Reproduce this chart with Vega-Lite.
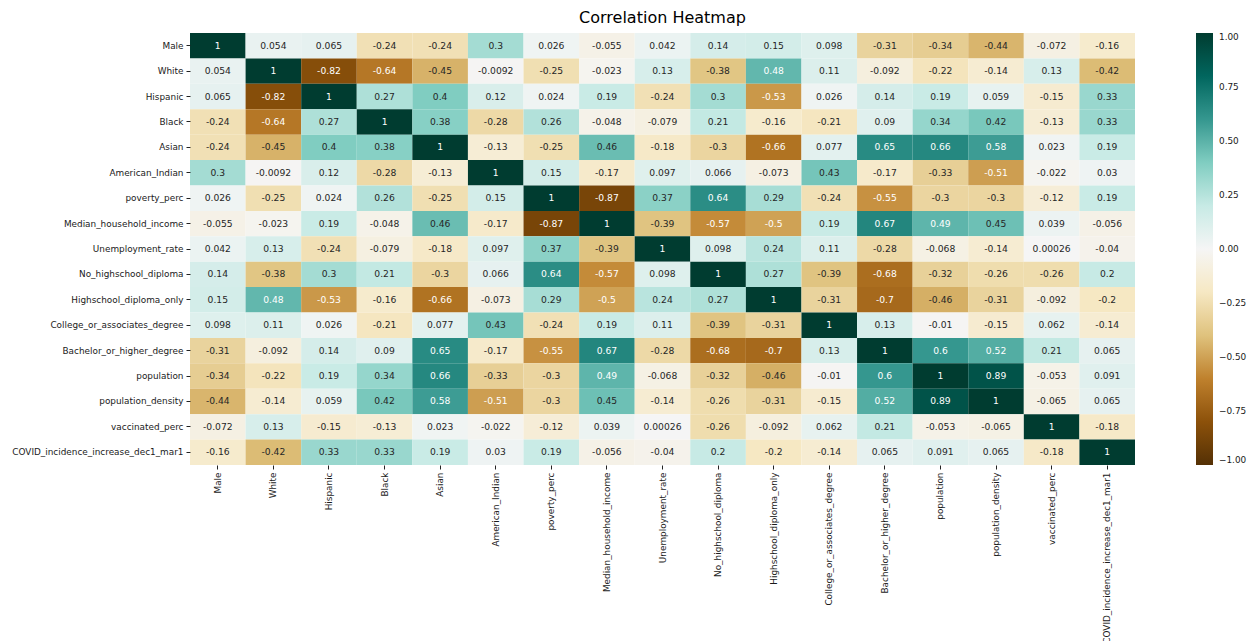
{
  "$schema": "https://vega.github.io/schema/vega-lite/v6.json",
  "autosize": "none",
  "padding": {"left": 190, "top": 33, "right": 119, "bottom": 176},
  "width": 945,
  "height": 432,
  "background": "white",
  "title": {"text": "Correlation Heatmap", "fontSize": 16, "fontWeight": "normal", "font": "DejaVu Sans", "color": "#000000", "anchor": "middle", "frame": "group", "offset": 7},
  "config": {
    "view": {"stroke": null},
    "font": "DejaVu Sans",
    "axis": {"domain": false, "ticks": true, "tickSize": 4, "tickColor": "#222222", "labelColor": "#1a1a1a", "labelFontSize": 8.9, "labelFont": "DejaVu Sans", "labelPadding": 3, "title": null, "grid": false}
  },
  "data": {"values": [
{"y":"Male","x":"Male","v":1},{"y":"Male","x":"White","v":0.054},{"y":"Male","x":"Hispanic","v":0.065},{"y":"Male","x":"Black","v":-0.24},{"y":"Male","x":"Asian","v":-0.24},{"y":"Male","x":"American_Indian","v":0.3},{"y":"Male","x":"poverty_perc","v":0.026},{"y":"Male","x":"Median_household_income","v":-0.055},{"y":"Male","x":"Unemployment_rate","v":0.042},{"y":"Male","x":"No_highschool_diploma","v":0.14},{"y":"Male","x":"Highschool_diploma_only","v":0.15},{"y":"Male","x":"College_or_associates_degree","v":0.098},{"y":"Male","x":"Bachelor_or_higher_degree","v":-0.31},{"y":"Male","x":"population","v":-0.34},{"y":"Male","x":"population_density","v":-0.44},{"y":"Male","x":"vaccinated_perc","v":-0.072},{"y":"Male","x":"COVID_incidence_increase_dec1_mar1","v":-0.16},
{"y":"White","x":"Male","v":0.054},{"y":"White","x":"White","v":1},{"y":"White","x":"Hispanic","v":-0.82},{"y":"White","x":"Black","v":-0.64},{"y":"White","x":"Asian","v":-0.45},{"y":"White","x":"American_Indian","v":-0.0092},{"y":"White","x":"poverty_perc","v":-0.25},{"y":"White","x":"Median_household_income","v":-0.023},{"y":"White","x":"Unemployment_rate","v":0.13},{"y":"White","x":"No_highschool_diploma","v":-0.38},{"y":"White","x":"Highschool_diploma_only","v":0.48},{"y":"White","x":"College_or_associates_degree","v":0.11},{"y":"White","x":"Bachelor_or_higher_degree","v":-0.092},{"y":"White","x":"population","v":-0.22},{"y":"White","x":"population_density","v":-0.14},{"y":"White","x":"vaccinated_perc","v":0.13},{"y":"White","x":"COVID_incidence_increase_dec1_mar1","v":-0.42},
{"y":"Hispanic","x":"Male","v":0.065},{"y":"Hispanic","x":"White","v":-0.82},{"y":"Hispanic","x":"Hispanic","v":1},{"y":"Hispanic","x":"Black","v":0.27},{"y":"Hispanic","x":"Asian","v":0.4},{"y":"Hispanic","x":"American_Indian","v":0.12},{"y":"Hispanic","x":"poverty_perc","v":0.024},{"y":"Hispanic","x":"Median_household_income","v":0.19},{"y":"Hispanic","x":"Unemployment_rate","v":-0.24},{"y":"Hispanic","x":"No_highschool_diploma","v":0.3},{"y":"Hispanic","x":"Highschool_diploma_only","v":-0.53},{"y":"Hispanic","x":"College_or_associates_degree","v":0.026},{"y":"Hispanic","x":"Bachelor_or_higher_degree","v":0.14},{"y":"Hispanic","x":"population","v":0.19},{"y":"Hispanic","x":"population_density","v":0.059},{"y":"Hispanic","x":"vaccinated_perc","v":-0.15},{"y":"Hispanic","x":"COVID_incidence_increase_dec1_mar1","v":0.33},
{"y":"Black","x":"Male","v":-0.24},{"y":"Black","x":"White","v":-0.64},{"y":"Black","x":"Hispanic","v":0.27},{"y":"Black","x":"Black","v":1},{"y":"Black","x":"Asian","v":0.38},{"y":"Black","x":"American_Indian","v":-0.28},{"y":"Black","x":"poverty_perc","v":0.26},{"y":"Black","x":"Median_household_income","v":-0.048},{"y":"Black","x":"Unemployment_rate","v":-0.079},{"y":"Black","x":"No_highschool_diploma","v":0.21},{"y":"Black","x":"Highschool_diploma_only","v":-0.16},{"y":"Black","x":"College_or_associates_degree","v":-0.21},{"y":"Black","x":"Bachelor_or_higher_degree","v":0.09},{"y":"Black","x":"population","v":0.34},{"y":"Black","x":"population_density","v":0.42},{"y":"Black","x":"vaccinated_perc","v":-0.13},{"y":"Black","x":"COVID_incidence_increase_dec1_mar1","v":0.33},
{"y":"Asian","x":"Male","v":-0.24},{"y":"Asian","x":"White","v":-0.45},{"y":"Asian","x":"Hispanic","v":0.4},{"y":"Asian","x":"Black","v":0.38},{"y":"Asian","x":"Asian","v":1},{"y":"Asian","x":"American_Indian","v":-0.13},{"y":"Asian","x":"poverty_perc","v":-0.25},{"y":"Asian","x":"Median_household_income","v":0.46},{"y":"Asian","x":"Unemployment_rate","v":-0.18},{"y":"Asian","x":"No_highschool_diploma","v":-0.3},{"y":"Asian","x":"Highschool_diploma_only","v":-0.66},{"y":"Asian","x":"College_or_associates_degree","v":0.077},{"y":"Asian","x":"Bachelor_or_higher_degree","v":0.65},{"y":"Asian","x":"population","v":0.66},{"y":"Asian","x":"population_density","v":0.58},{"y":"Asian","x":"vaccinated_perc","v":0.023},{"y":"Asian","x":"COVID_incidence_increase_dec1_mar1","v":0.19},
{"y":"American_Indian","x":"Male","v":0.3},{"y":"American_Indian","x":"White","v":-0.0092},{"y":"American_Indian","x":"Hispanic","v":0.12},{"y":"American_Indian","x":"Black","v":-0.28},{"y":"American_Indian","x":"Asian","v":-0.13},{"y":"American_Indian","x":"American_Indian","v":1},{"y":"American_Indian","x":"poverty_perc","v":0.15},{"y":"American_Indian","x":"Median_household_income","v":-0.17},{"y":"American_Indian","x":"Unemployment_rate","v":0.097},{"y":"American_Indian","x":"No_highschool_diploma","v":0.066},{"y":"American_Indian","x":"Highschool_diploma_only","v":-0.073},{"y":"American_Indian","x":"College_or_associates_degree","v":0.43},{"y":"American_Indian","x":"Bachelor_or_higher_degree","v":-0.17},{"y":"American_Indian","x":"population","v":-0.33},{"y":"American_Indian","x":"population_density","v":-0.51},{"y":"American_Indian","x":"vaccinated_perc","v":-0.022},{"y":"American_Indian","x":"COVID_incidence_increase_dec1_mar1","v":0.03},
{"y":"poverty_perc","x":"Male","v":0.026},{"y":"poverty_perc","x":"White","v":-0.25},{"y":"poverty_perc","x":"Hispanic","v":0.024},{"y":"poverty_perc","x":"Black","v":0.26},{"y":"poverty_perc","x":"Asian","v":-0.25},{"y":"poverty_perc","x":"American_Indian","v":0.15},{"y":"poverty_perc","x":"poverty_perc","v":1},{"y":"poverty_perc","x":"Median_household_income","v":-0.87},{"y":"poverty_perc","x":"Unemployment_rate","v":0.37},{"y":"poverty_perc","x":"No_highschool_diploma","v":0.64},{"y":"poverty_perc","x":"Highschool_diploma_only","v":0.29},{"y":"poverty_perc","x":"College_or_associates_degree","v":-0.24},{"y":"poverty_perc","x":"Bachelor_or_higher_degree","v":-0.55},{"y":"poverty_perc","x":"population","v":-0.3},{"y":"poverty_perc","x":"population_density","v":-0.3},{"y":"poverty_perc","x":"vaccinated_perc","v":-0.12},{"y":"poverty_perc","x":"COVID_incidence_increase_dec1_mar1","v":0.19},
{"y":"Median_household_income","x":"Male","v":-0.055},{"y":"Median_household_income","x":"White","v":-0.023},{"y":"Median_household_income","x":"Hispanic","v":0.19},{"y":"Median_household_income","x":"Black","v":-0.048},{"y":"Median_household_income","x":"Asian","v":0.46},{"y":"Median_household_income","x":"American_Indian","v":-0.17},{"y":"Median_household_income","x":"poverty_perc","v":-0.87},{"y":"Median_household_income","x":"Median_household_income","v":1},{"y":"Median_household_income","x":"Unemployment_rate","v":-0.39},{"y":"Median_household_income","x":"No_highschool_diploma","v":-0.57},{"y":"Median_household_income","x":"Highschool_diploma_only","v":-0.5},{"y":"Median_household_income","x":"College_or_associates_degree","v":0.19},{"y":"Median_household_income","x":"Bachelor_or_higher_degree","v":0.67},{"y":"Median_household_income","x":"population","v":0.49},{"y":"Median_household_income","x":"population_density","v":0.45},{"y":"Median_household_income","x":"vaccinated_perc","v":0.039},{"y":"Median_household_income","x":"COVID_incidence_increase_dec1_mar1","v":-0.056},
{"y":"Unemployment_rate","x":"Male","v":0.042},{"y":"Unemployment_rate","x":"White","v":0.13},{"y":"Unemployment_rate","x":"Hispanic","v":-0.24},{"y":"Unemployment_rate","x":"Black","v":-0.079},{"y":"Unemployment_rate","x":"Asian","v":-0.18},{"y":"Unemployment_rate","x":"American_Indian","v":0.097},{"y":"Unemployment_rate","x":"poverty_perc","v":0.37},{"y":"Unemployment_rate","x":"Median_household_income","v":-0.39},{"y":"Unemployment_rate","x":"Unemployment_rate","v":1},{"y":"Unemployment_rate","x":"No_highschool_diploma","v":0.098},{"y":"Unemployment_rate","x":"Highschool_diploma_only","v":0.24},{"y":"Unemployment_rate","x":"College_or_associates_degree","v":0.11},{"y":"Unemployment_rate","x":"Bachelor_or_higher_degree","v":-0.28},{"y":"Unemployment_rate","x":"population","v":-0.068},{"y":"Unemployment_rate","x":"population_density","v":-0.14},{"y":"Unemployment_rate","x":"vaccinated_perc","v":0.00026},{"y":"Unemployment_rate","x":"COVID_incidence_increase_dec1_mar1","v":-0.04},
{"y":"No_highschool_diploma","x":"Male","v":0.14},{"y":"No_highschool_diploma","x":"White","v":-0.38},{"y":"No_highschool_diploma","x":"Hispanic","v":0.3},{"y":"No_highschool_diploma","x":"Black","v":0.21},{"y":"No_highschool_diploma","x":"Asian","v":-0.3},{"y":"No_highschool_diploma","x":"American_Indian","v":0.066},{"y":"No_highschool_diploma","x":"poverty_perc","v":0.64},{"y":"No_highschool_diploma","x":"Median_household_income","v":-0.57},{"y":"No_highschool_diploma","x":"Unemployment_rate","v":0.098},{"y":"No_highschool_diploma","x":"No_highschool_diploma","v":1},{"y":"No_highschool_diploma","x":"Highschool_diploma_only","v":0.27},{"y":"No_highschool_diploma","x":"College_or_associates_degree","v":-0.39},{"y":"No_highschool_diploma","x":"Bachelor_or_higher_degree","v":-0.68},{"y":"No_highschool_diploma","x":"population","v":-0.32},{"y":"No_highschool_diploma","x":"population_density","v":-0.26},{"y":"No_highschool_diploma","x":"vaccinated_perc","v":-0.26},{"y":"No_highschool_diploma","x":"COVID_incidence_increase_dec1_mar1","v":0.2},
{"y":"Highschool_diploma_only","x":"Male","v":0.15},{"y":"Highschool_diploma_only","x":"White","v":0.48},{"y":"Highschool_diploma_only","x":"Hispanic","v":-0.53},{"y":"Highschool_diploma_only","x":"Black","v":-0.16},{"y":"Highschool_diploma_only","x":"Asian","v":-0.66},{"y":"Highschool_diploma_only","x":"American_Indian","v":-0.073},{"y":"Highschool_diploma_only","x":"poverty_perc","v":0.29},{"y":"Highschool_diploma_only","x":"Median_household_income","v":-0.5},{"y":"Highschool_diploma_only","x":"Unemployment_rate","v":0.24},{"y":"Highschool_diploma_only","x":"No_highschool_diploma","v":0.27},{"y":"Highschool_diploma_only","x":"Highschool_diploma_only","v":1},{"y":"Highschool_diploma_only","x":"College_or_associates_degree","v":-0.31},{"y":"Highschool_diploma_only","x":"Bachelor_or_higher_degree","v":-0.7},{"y":"Highschool_diploma_only","x":"population","v":-0.46},{"y":"Highschool_diploma_only","x":"population_density","v":-0.31},{"y":"Highschool_diploma_only","x":"vaccinated_perc","v":-0.092},{"y":"Highschool_diploma_only","x":"COVID_incidence_increase_dec1_mar1","v":-0.2},
{"y":"College_or_associates_degree","x":"Male","v":0.098},{"y":"College_or_associates_degree","x":"White","v":0.11},{"y":"College_or_associates_degree","x":"Hispanic","v":0.026},{"y":"College_or_associates_degree","x":"Black","v":-0.21},{"y":"College_or_associates_degree","x":"Asian","v":0.077},{"y":"College_or_associates_degree","x":"American_Indian","v":0.43},{"y":"College_or_associates_degree","x":"poverty_perc","v":-0.24},{"y":"College_or_associates_degree","x":"Median_household_income","v":0.19},{"y":"College_or_associates_degree","x":"Unemployment_rate","v":0.11},{"y":"College_or_associates_degree","x":"No_highschool_diploma","v":-0.39},{"y":"College_or_associates_degree","x":"Highschool_diploma_only","v":-0.31},{"y":"College_or_associates_degree","x":"College_or_associates_degree","v":1},{"y":"College_or_associates_degree","x":"Bachelor_or_higher_degree","v":0.13},{"y":"College_or_associates_degree","x":"population","v":-0.01},{"y":"College_or_associates_degree","x":"population_density","v":-0.15},{"y":"College_or_associates_degree","x":"vaccinated_perc","v":0.062},{"y":"College_or_associates_degree","x":"COVID_incidence_increase_dec1_mar1","v":-0.14},
{"y":"Bachelor_or_higher_degree","x":"Male","v":-0.31},{"y":"Bachelor_or_higher_degree","x":"White","v":-0.092},{"y":"Bachelor_or_higher_degree","x":"Hispanic","v":0.14},{"y":"Bachelor_or_higher_degree","x":"Black","v":0.09},{"y":"Bachelor_or_higher_degree","x":"Asian","v":0.65},{"y":"Bachelor_or_higher_degree","x":"American_Indian","v":-0.17},{"y":"Bachelor_or_higher_degree","x":"poverty_perc","v":-0.55},{"y":"Bachelor_or_higher_degree","x":"Median_household_income","v":0.67},{"y":"Bachelor_or_higher_degree","x":"Unemployment_rate","v":-0.28},{"y":"Bachelor_or_higher_degree","x":"No_highschool_diploma","v":-0.68},{"y":"Bachelor_or_higher_degree","x":"Highschool_diploma_only","v":-0.7},{"y":"Bachelor_or_higher_degree","x":"College_or_associates_degree","v":0.13},{"y":"Bachelor_or_higher_degree","x":"Bachelor_or_higher_degree","v":1},{"y":"Bachelor_or_higher_degree","x":"population","v":0.6},{"y":"Bachelor_or_higher_degree","x":"population_density","v":0.52},{"y":"Bachelor_or_higher_degree","x":"vaccinated_perc","v":0.21},{"y":"Bachelor_or_higher_degree","x":"COVID_incidence_increase_dec1_mar1","v":0.065},
{"y":"population","x":"Male","v":-0.34},{"y":"population","x":"White","v":-0.22},{"y":"population","x":"Hispanic","v":0.19},{"y":"population","x":"Black","v":0.34},{"y":"population","x":"Asian","v":0.66},{"y":"population","x":"American_Indian","v":-0.33},{"y":"population","x":"poverty_perc","v":-0.3},{"y":"population","x":"Median_household_income","v":0.49},{"y":"population","x":"Unemployment_rate","v":-0.068},{"y":"population","x":"No_highschool_diploma","v":-0.32},{"y":"population","x":"Highschool_diploma_only","v":-0.46},{"y":"population","x":"College_or_associates_degree","v":-0.01},{"y":"population","x":"Bachelor_or_higher_degree","v":0.6},{"y":"population","x":"population","v":1},{"y":"population","x":"population_density","v":0.89},{"y":"population","x":"vaccinated_perc","v":-0.053},{"y":"population","x":"COVID_incidence_increase_dec1_mar1","v":0.091},
{"y":"population_density","x":"Male","v":-0.44},{"y":"population_density","x":"White","v":-0.14},{"y":"population_density","x":"Hispanic","v":0.059},{"y":"population_density","x":"Black","v":0.42},{"y":"population_density","x":"Asian","v":0.58},{"y":"population_density","x":"American_Indian","v":-0.51},{"y":"population_density","x":"poverty_perc","v":-0.3},{"y":"population_density","x":"Median_household_income","v":0.45},{"y":"population_density","x":"Unemployment_rate","v":-0.14},{"y":"population_density","x":"No_highschool_diploma","v":-0.26},{"y":"population_density","x":"Highschool_diploma_only","v":-0.31},{"y":"population_density","x":"College_or_associates_degree","v":-0.15},{"y":"population_density","x":"Bachelor_or_higher_degree","v":0.52},{"y":"population_density","x":"population","v":0.89},{"y":"population_density","x":"population_density","v":1},{"y":"population_density","x":"vaccinated_perc","v":-0.065},{"y":"population_density","x":"COVID_incidence_increase_dec1_mar1","v":0.065},
{"y":"vaccinated_perc","x":"Male","v":-0.072},{"y":"vaccinated_perc","x":"White","v":0.13},{"y":"vaccinated_perc","x":"Hispanic","v":-0.15},{"y":"vaccinated_perc","x":"Black","v":-0.13},{"y":"vaccinated_perc","x":"Asian","v":0.023},{"y":"vaccinated_perc","x":"American_Indian","v":-0.022},{"y":"vaccinated_perc","x":"poverty_perc","v":-0.12},{"y":"vaccinated_perc","x":"Median_household_income","v":0.039},{"y":"vaccinated_perc","x":"Unemployment_rate","v":0.00026},{"y":"vaccinated_perc","x":"No_highschool_diploma","v":-0.26},{"y":"vaccinated_perc","x":"Highschool_diploma_only","v":-0.092},{"y":"vaccinated_perc","x":"College_or_associates_degree","v":0.062},{"y":"vaccinated_perc","x":"Bachelor_or_higher_degree","v":0.21},{"y":"vaccinated_perc","x":"population","v":-0.053},{"y":"vaccinated_perc","x":"population_density","v":-0.065},{"y":"vaccinated_perc","x":"vaccinated_perc","v":1},{"y":"vaccinated_perc","x":"COVID_incidence_increase_dec1_mar1","v":-0.18},
{"y":"COVID_incidence_increase_dec1_mar1","x":"Male","v":-0.16},{"y":"COVID_incidence_increase_dec1_mar1","x":"White","v":-0.42},{"y":"COVID_incidence_increase_dec1_mar1","x":"Hispanic","v":0.33},{"y":"COVID_incidence_increase_dec1_mar1","x":"Black","v":0.33},{"y":"COVID_incidence_increase_dec1_mar1","x":"Asian","v":0.19},{"y":"COVID_incidence_increase_dec1_mar1","x":"American_Indian","v":0.03},{"y":"COVID_incidence_increase_dec1_mar1","x":"poverty_perc","v":0.19},{"y":"COVID_incidence_increase_dec1_mar1","x":"Median_household_income","v":-0.056},{"y":"COVID_incidence_increase_dec1_mar1","x":"Unemployment_rate","v":-0.04},{"y":"COVID_incidence_increase_dec1_mar1","x":"No_highschool_diploma","v":0.2},{"y":"COVID_incidence_increase_dec1_mar1","x":"Highschool_diploma_only","v":-0.2},{"y":"COVID_incidence_increase_dec1_mar1","x":"College_or_associates_degree","v":-0.14},{"y":"COVID_incidence_increase_dec1_mar1","x":"Bachelor_or_higher_degree","v":0.065},{"y":"COVID_incidence_increase_dec1_mar1","x":"population","v":0.091},{"y":"COVID_incidence_increase_dec1_mar1","x":"population_density","v":0.065},{"y":"COVID_incidence_increase_dec1_mar1","x":"vaccinated_perc","v":-0.18},{"y":"COVID_incidence_increase_dec1_mar1","x":"COVID_incidence_increase_dec1_mar1","v":1}
  ]},
  "encoding": {
    "x": {"field": "x", "type": "nominal", "sort": ["Male","White","Hispanic","Black","Asian","American_Indian","poverty_perc","Median_household_income","Unemployment_rate","No_highschool_diploma","Highschool_diploma_only","College_or_associates_degree","Bachelor_or_higher_degree","population","population_density","vaccinated_perc","COVID_incidence_increase_dec1_mar1"], "scale": {"paddingInner": 0, "paddingOuter": 0}, "axis": {"orient": "bottom", "labelAngle": -90, "labelLimit": 0}},
    "y": {"field": "y", "type": "nominal", "sort": ["Male","White","Hispanic","Black","Asian","American_Indian","poverty_perc","Median_household_income","Unemployment_rate","No_highschool_diploma","Highschool_diploma_only","College_or_associates_degree","Bachelor_or_higher_degree","population","population_density","vaccinated_perc","COVID_incidence_increase_dec1_mar1"], "scale": {"paddingInner": 0, "paddingOuter": 0}, "axis": {"orient": "left", "labelLimit": 0}}
  },
  "layer": [
    {
      "mark": {"type": "rect", "strokeWidth": 0},
      "encoding": {
        "color": {"field": "v", "type": "quantitative",
          "scale": {"type": "linear", "domain": [-1, -0.8, -0.6, -0.4, -0.2, 0, 0.2, 0.4, 0.6, 0.8, 1], "range": ["#543005", "#8c510a", "#bf812d", "#dfc27d", "#f6e8c3", "#f5f5f5", "#c7eae5", "#80cdc1", "#35978f", "#01665e", "#003c30"], "interpolate": "rgb"},
          "legend": {"title": null, "orient": "right", "offset": 61, "direction": "vertical", "gradientLength": 432, "gradientThickness": 17, "values": [-1, -0.75, -0.5, -0.25, 0, 0.25, 0.5, 0.75, 1], "format": ".2f", "labelFontSize": 8.9, "labelColor": "#1a1a1a", "labelFont": "DejaVu Sans", "labelOffset": 6, "gradientStrokeWidth": 0}}
      }
    },
    {
      "mark": {"type": "text", "fontSize": 9.2, "font": "DejaVu Sans"},
      "encoding": {
        "text": {"field": "v", "type": "nominal"},
        "color": {"condition": {"test": "abs(datum.v) >= 0.47", "value": "#ffffff"}, "value": "#262626"}
      }
    }
  ]
}
